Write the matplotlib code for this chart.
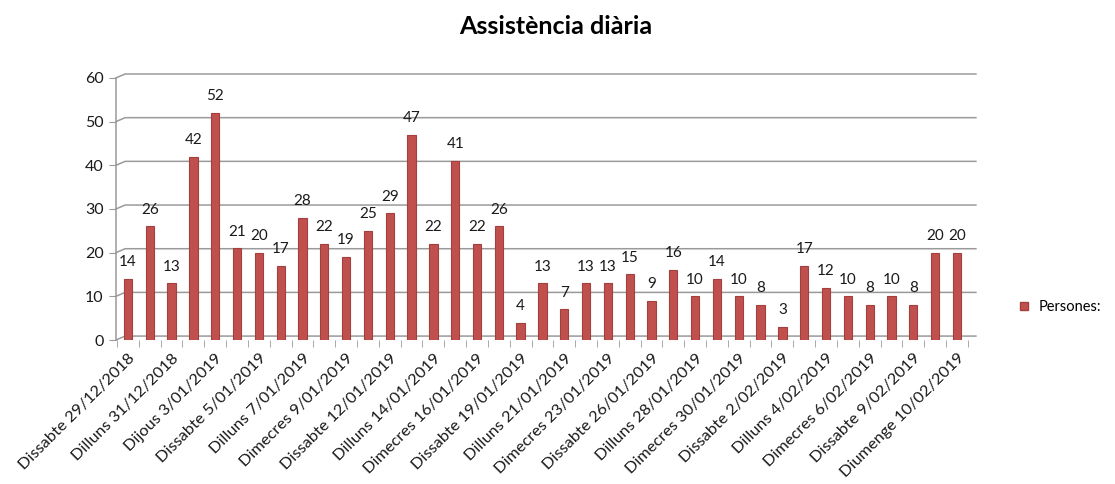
import matplotlib.pyplot as plt
from matplotlib.lines import Line2D

plt.rcParams['font.family'] = ['Lato', 'DejaVu Sans']

persones = [14, 26, 13, 42, 52, 21, 20, 17, 28, 22, 19, 25, 29, 47, 22, 41, 22, 26,
            4, 13, 7, 13, 13, 15, 9, 16, 10, 14, 10, 8, 3, 17, 12, 10, 8, 10, 8, 20, 20]
tick_labels = ['Dissabte 29/12/2018', 'Dilluns 31/12/2018', 'Dijous 3/01/2019',
               'Dissabte 5/01/2019', 'Dilluns 7/01/2019', 'Dimecres 9/01/2019',
               'Dissabte 12/01/2019', 'Dilluns 14/01/2019', 'Dimecres 16/01/2019',
               'Dissabte 19/01/2019', 'Dilluns 21/01/2019', 'Dimecres 23/01/2019',
               'Dissabte 26/01/2019', 'Dilluns 28/01/2019', 'Dimecres 30/01/2019',
               'Dissabte 2/02/2019', 'Dilluns 4/02/2019', 'Dimecres 6/02/2019',
               'Dissabte 9/02/2019', 'Diumenge 10/02/2019']
yticks = [0, 10, 20, 30, 40, 50, 60]

bar_color = '#C0504D'
grid_color = '#9A9A9A'

fig = plt.figure(figsize=(11.15, 4.84), dpi=100)
ax = fig.add_axes([0.104, 0.2975, 0.764, 0.5415])

x = list(range(len(persones)))
ax.bar(x, persones, width=0.38, color=bar_color, edgecolor='#A33F3C',
       linewidth=0.8, zorder=3)
for xi, v in zip(x, persones):
    ax.annotate(str(v), (xi, v), xytext=(0, 7), textcoords='offset points',
                ha='center', va='bottom', fontsize=11, color='#1a1a1a')

ax.set_xlim(-0.55, 38.45)
ax.set_ylim(0, 60)

# back-wall gridlines with small 3-D stubs at the left edge
dx, dy = 0.42, 0.9
for t in yticks:
    ax.plot([-0.55, -0.55 + dx, 38.45 + dx], [t, t + dy, t + dy],
            color=grid_color, lw=1.1, zorder=1, clip_on=False)
ax.plot([-0.55, -0.55], [0, 60], color=grid_color, lw=1.1, clip_on=False)

for s in ax.spines.values():
    s.set_visible(False)

ax.set_yticks(yticks)
ax.set_yticklabels([str(t) for t in yticks], fontsize=11.5, color='#1a1a1a')
ax.tick_params(axis='y', length=5, color=grid_color, pad=4)

ax.set_xticks([i + 0.5 for i in range(-1, len(persones))], minor=True)
ax.set_xticks(x[::2])
ax.set_xticklabels(tick_labels, rotation=45, ha='right', rotation_mode='anchor',
                   fontsize=11.8, color='#1a1a1a')
ax.tick_params(axis='x', which='major', length=0, pad=8)
ax.tick_params(axis='x', which='minor', length=5, color=grid_color)

fig.suptitle('Assistència diària', x=0.498, y=0.97, fontsize=18, fontweight='bold')

handle = Line2D([], [], marker='s', linestyle='none', markersize=6,
                markerfacecolor=bar_color, markeredgecolor='#A33F3C')
fig.legend([handle], ['Persones:'], loc='center left', bbox_to_anchor=(0.9, 0.365),
           frameon=False, fontsize=10.5, handletextpad=0.0, borderaxespad=0)

fig.savefig('out.png', dpi=100, facecolor='white')
